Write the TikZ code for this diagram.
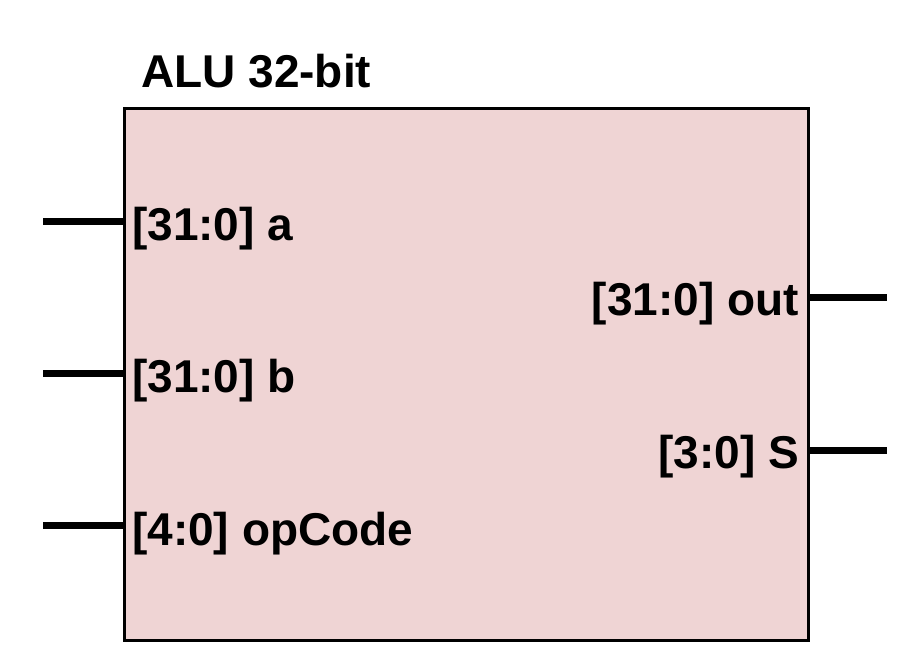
\documentclass[tikz,border=0pt]{standalone}
\usepackage{fontspec}
\setmainfont{Liberation Sans}
\definecolor{alufill}{RGB}{239,212,212}
\begin{document}
\begin{tikzpicture}[x=1pt,y=-1pt,
  lbl/.style={inner sep=0pt, font=\fontsize{46}{55}\selectfont\bfseries},
  pin/.style={line width=7pt},
  blockbox/.style={draw=black, line width=3pt, fill=alufill, minimum width=684pt, minimum height=532pt, inner sep=0pt, anchor=north west}]
\useasboundingbox (0,0) rectangle (915,658);
\node[blockbox] (alu) at (123,107) {};
\node[lbl, anchor=base west] (title) at (141,88) {ALU 32-bit};
% left pins
\coordinate (pa) at (43,221);
\coordinate (pb) at (43,373);
\coordinate (pop) at (43,525);
\draw[pin] (pa) -- (pa -| alu.west);
\draw[pin] (pb) -- (pb -| alu.west);
\draw[pin] (pop) -- (pop -| alu.west);
\node[lbl, anchor=base west] (la) at (132,240) {[31:0] a};
\node[lbl, anchor=base west] (lb) at (132,392) {[31:0] b};
\node[lbl, anchor=base west] (lop) at (132,545) {[4:0] opCode};
% right pins
\coordinate (pout) at (887,297);
\coordinate (ps) at (887,450);
\draw[pin] (pout -| alu.east) -- (pout);
\draw[pin] (ps -| alu.east) -- (ps);
\node[lbl, anchor=base east] (lout) at (799,315) {[31:0] out};
\node[lbl, anchor=base east] (ls) at (799,468) {[3:0] S};
\end{tikzpicture}
\end{document}
